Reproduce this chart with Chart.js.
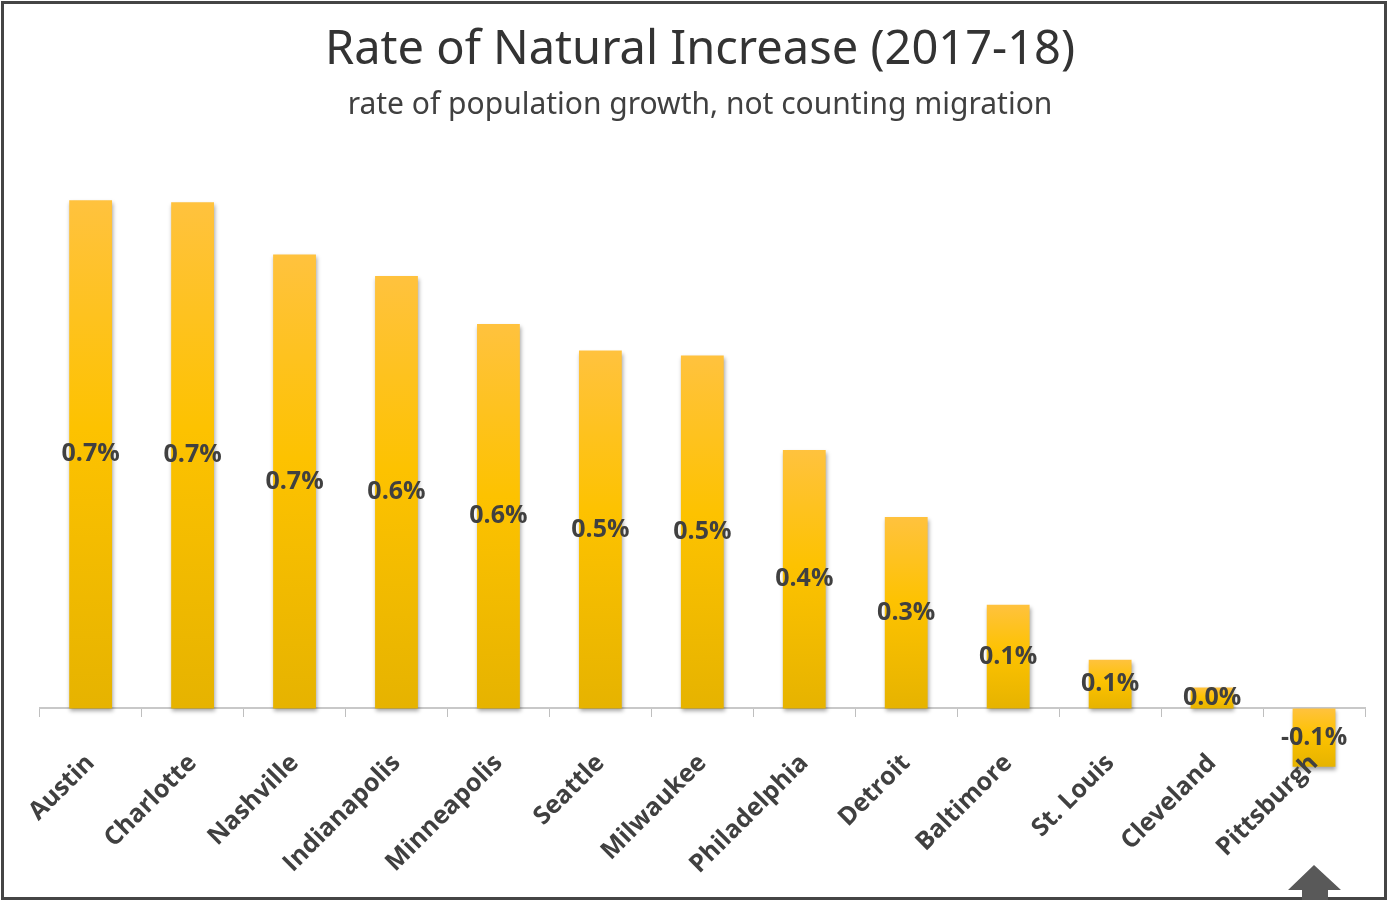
<!DOCTYPE html>
<html>
<head>
<meta charset="utf-8">
<script src="https://cdn.jsdelivr.net/npm/chart.js@4"></script>
<style>
  html, body { margin: 0; padding: 0; background: #fff; }
  #wrap { position: relative; width: 1389px; height: 903px; overflow: hidden; }
  #c { position: absolute; left: 0; top: 0; }
  #frame { position: absolute; left: 1px; top: 1px; width: 1380px; height: 893px; border: 3px solid #454545; pointer-events: none; }
  #arrow { position: absolute; left: 0; top: 0; pointer-events: none; }
</style>
</head>
<body>
<div id="wrap">
  <canvas id="c" width="1389" height="903"></canvas>
  <div id="frame"></div>
  <svg id="arrow" width="1389" height="903"><polygon points="1314,865 1341,890 1328,890 1328,900 1302,900 1302,890 1288,890" fill="#595959"/></svg>
</div>
<script>
const titleText = 'Rate of Natural Increase (2017-18)';
const subtitleText = 'rate of population growth, not counting migration';
const cities = ['Austin','Charlotte','Nashville','Indianapolis','Minneapolis','Seattle','Milwaukee','Philadelphia','Detroit','Baltimore','St. Louis','Cleveland','Pittsburgh'];
const rates = [0.73, 0.727, 0.652, 0.621, 0.552, 0.514, 0.507, 0.371, 0.275, 0.149, 0.07, 0.03, -0.084];

function barGradient(ctx) {
  const chart = ctx.chart;
  const y = chart.scales && chart.scales.y;
  if (!chart.chartArea || !y || ctx.raw === undefined) return '#FDC200';
  const top = y.getPixelForValue(Math.max(ctx.raw, 0));
  const bot = y.getPixelForValue(Math.min(ctx.raw, 0));
  if (!isFinite(top) || !isFinite(bot) || bot - top < 1) return '#FDC200';
  const g = chart.ctx.createLinearGradient(0, top, 0, bot);
  g.addColorStop(0, '#FFC23E');
  g.addColorStop(0.45, '#FDC200');
  g.addColorStop(1, '#E6B300');
  return g;
}

const shadowPlugin = {
  id: 'barShadow',
  beforeDatasetsDraw(chart) {
    const c = chart.ctx;
    c.save();
    c.shadowColor = 'rgba(0,0,0,0.35)';
    c.shadowBlur = 4;
    c.shadowOffsetX = 1;
    c.shadowOffsetY = 3;
  },
  afterDatasetsDraw(chart) {
    chart.ctx.restore();
  }
};

const valueLabels = {
  id: 'valueLabels',
  afterDraw(chart) {
    const c = chart.ctx;
    const meta = chart.getDatasetMeta(0);
    c.save();
    c.font = 'bold 25px "Open Sans"';
    c.fillStyle = '#404040';
    c.textAlign = 'center';
    c.textBaseline = 'middle';
    meta.data.forEach((bar, i) => {
      const v = chart.data.datasets[0].data[i];
      const p = bar.getProps(['x','y','base'], true);
      const cy = (p.y + p.base) / 2;
      c.fillText(v.toFixed(1) + '%', p.x, cy);
    });
    c.restore();
  }
};

new Chart(document.getElementById('c'), {
  type: 'bar',
  data: {
    labels: cities,
    datasets: [{
      data: rates,
      backgroundColor: barGradient,
      borderWidth: 0,
      barPercentage: 0.84,
      categoryPercentage: 0.5
    }]
  },
  options: {
    responsive: false,
    animation: false,
    layout: { padding: { left: 35, right: 24, top: 0, bottom: 125 } },
    plugins: {
      legend: { display: false },
      tooltip: { enabled: false },
      title: {
        display: true,
        text: titleText,
        color: '#333333',
        font: { family: '"Noto Sans"', size: 47, weight: 'normal' },
        padding: { top: 22, bottom: 0 }
      },
      subtitle: {
        display: true,
        text: subtitleText,
        color: '#404040',
        font: { family: '"Noto Sans"', size: 30, weight: 'normal' },
        padding: { top: 9, bottom: 28 }
      }
    },
    scales: {
      x: {
        position: { y: 0 },
        grid: { display: true, drawOnChartArea: false, drawTicks: true, tickLength: 8, color: '#BFBFBF', offset: true, z: -1 },
        border: { display: true, color: '#C8C8C8', width: 2, z: -1 },
        ticks: {
          z: 1,
          color: '#404040',
          font: { family: '"Open Sans"', size: 25, weight: 'bold' },
          minRotation: 45, maxRotation: 45,
          padding: 32,
          autoSkip: false
        }
      },
      y: {
        display: false,
        min: -0.1,
        max: 0.8
      }
    }
  },
  plugins: [shadowPlugin, valueLabels]
});
</script>
</body>
</html>
